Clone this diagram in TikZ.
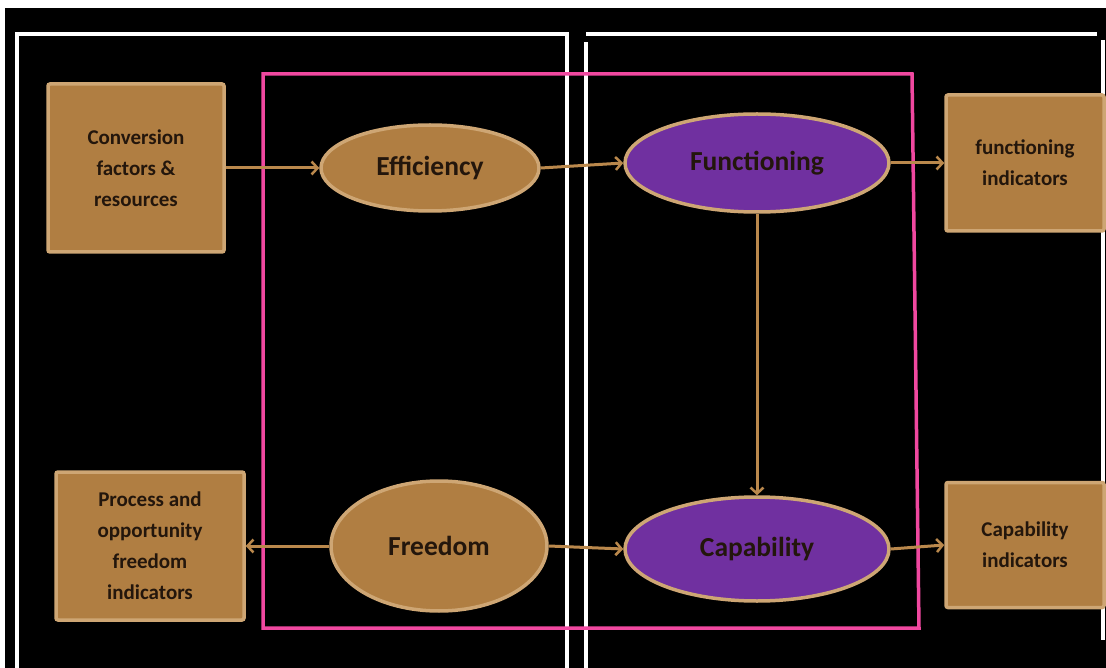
\documentclass[tikz,border=0pt]{standalone}
\usepackage{fontspec}
\setmainfont{Carlito}
\usetikzlibrary{arrows.meta,shapes.geometric}
\definecolor{boxFill}{RGB}{176,126,66}
\definecolor{edgeColor}{RGB}{206,166,116}
\definecolor{purpleFill}{RGB}{112,48,160}
\definecolor{pinkColor}{RGB}{240,72,160}
\definecolor{arrowColor}{RGB}{186,136,76}
\definecolor{textColor}{RGB}{35,22,12}
\begin{document}
\begin{tikzpicture}[x=1pt,y=-1pt,
  indbox/.style={draw=edgeColor,fill=boxFill,line width=3.5pt,rounded corners=2pt,
    inner sep=0pt,text=textColor,align=center,font=\bfseries\fontsize{21}{31}\selectfont},
  stage/.style={ellipse,draw=edgeColor,fill=boxFill,line width=3.5pt,inner sep=0pt,
    text=textColor,font=\bfseries\fontsize{27.5}{32}\selectfont},
  result/.style={stage,fill=purpleFill},
  link/.style={draw=arrowColor,line width=3pt,-{Straight Barb[length=6pt,width=13pt,line width=2.5pt]}}]
\useasboundingbox (0,0) rectangle (1106,668);
\path[fill=white] (0,0) rectangle (1106,668);
\path[fill=black] (5,8) rectangle (1106,668);

% frames
\path[draw=white,line width=3.5pt] (17,680) -- (17,34) -- (567,34) -- (567,680);
\path[draw=white,line width=3.5pt] (586,680) -- (586,42);
\path[draw=white,line width=3.5pt] (586,34) -- (1097,34);
\path[draw=white,line width=3.5pt] (1103,40) -- (1103,640);
\path[draw=pinkColor,line width=3.5pt] (263,74) -- (912,74) -- (919,628) -- (263,628) -- cycle;

% boxes
\node[indbox,minimum width=176,minimum height=168] (conv) at (136,168) {Conversion\\factors \&\\resources};
\node[indbox,minimum width=188,minimum height=148] (proc) at (150,546) {Process and\\opportunity\\freedom\\indicators};
\node[indbox,minimum width=158,minimum height=136] (funcind) at (1025,163) {functioning\\indicators};
\node[indbox,minimum width=158,minimum height=125] (capind) at (1025,545) {Capability\\indicators};

% ellipses
\node[stage,minimum width=218,minimum height=86] (eff) at (430,168) {Efficiency};
\node[stage,minimum width=216,minimum height=130] (free) at (439,546) {Freedom};
\node[result,minimum width=264,minimum height=98] (func) at (757,163) {Functioning};
\node[result,minimum width=264,minimum height=104] (cap) at (757,549) {Capability};

% arrows
\draw[link] (conv.east) -- (eff.west);
\draw[link] (eff.east) -- (func.west);
\draw[link] (func.east) -- (funcind.west);
\draw[link] (func.south) -- (cap.north);
\draw[link] (free.west) -- (proc.east);
\draw[link] (free.east) -- (cap.west);
\draw[link] (cap.east) -- (capind.west);
\end{tikzpicture}
\end{document}
